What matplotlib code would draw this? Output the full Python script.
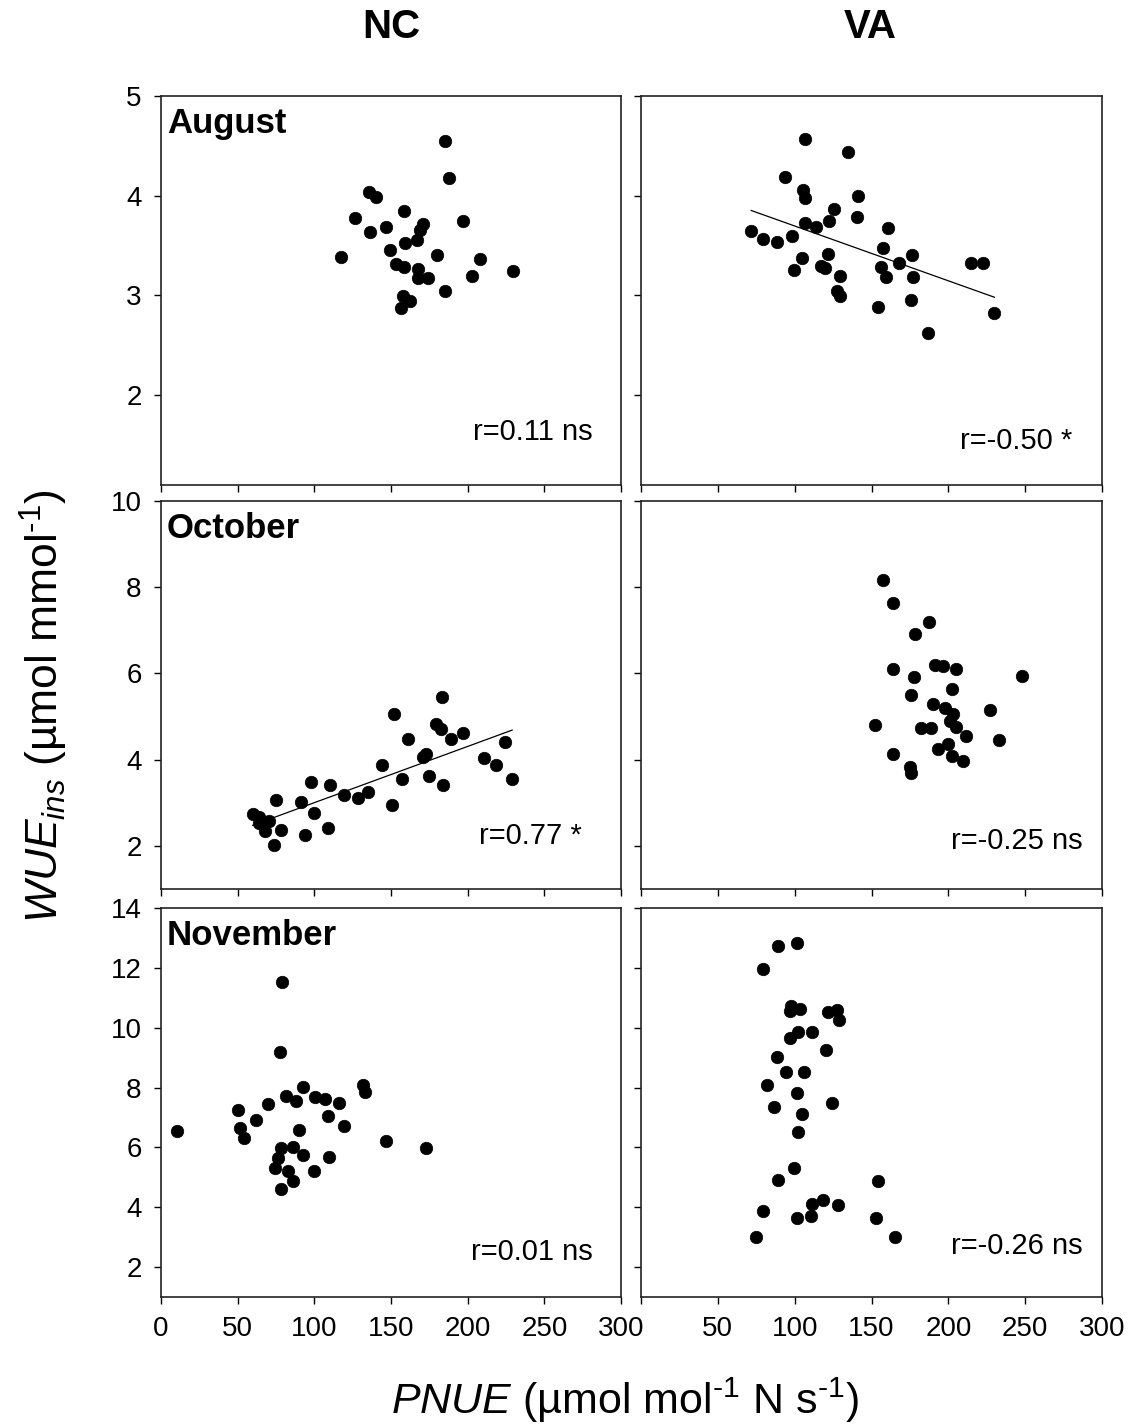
import matplotlib
matplotlib.use('Agg')
import matplotlib.pyplot as plt
import numpy as np

plt.rcParams['font.family'] = ['Liberation Sans', 'DejaVu Sans']
plt.rcParams['mathtext.fontset'] = 'custom'
plt.rcParams['mathtext.rm'] = 'Liberation Sans'
plt.rcParams['mathtext.it'] = 'Liberation Sans:italic'
plt.rcParams['mathtext.bf'] = 'Liberation Sans:bold'

# ---------------- data ----------------
sites = ["NC", "VA"]
months = ["August", "October", "November"]

nc_aug_x = [184.9, 188.1, 135.8, 140.5, 158.6, 126.3, 197.0, 170.7, 136.5, 146.5, 169.0, 167.0, 159.3, 149.3,
            117.2, 179.8, 208.1, 153.5, 158.8, 167.4, 229.5, 167.4, 174.2, 202.8, 185.3, 157.9, 162.1, 156.3]
nc_aug_y = [4.55, 4.18, 4.04, 3.99, 3.85, 3.78, 3.75, 3.72, 3.64, 3.69, 3.66, 3.56, 3.53, 3.46,
            3.39, 3.41, 3.37, 3.32, 3.29, 3.27, 3.25, 3.18, 3.18, 3.20, 3.04, 2.99, 2.94, 2.87]

va_aug_x = [106.8, 134.4, 93.5, 105.4, 106.8, 141.0, 125.3, 140.7, 122.4, 107.0, 113.7, 160.6, 71.7, 79.3,
            88.5, 98.3, 157.3, 121.8, 105.0, 176.3, 168.0, 215.0, 222.7, 156.2, 117.4, 120.0, 99.6, 129.6,
            159.5, 177.3, 127.7, 129.2, 154.0, 175.6, 230.0, 186.5]
va_aug_y = [4.57, 4.44, 4.19, 4.06, 3.98, 4.00, 3.87, 3.79, 3.75, 3.73, 3.69, 3.68, 3.65, 3.57,
            3.54, 3.60, 3.48, 3.42, 3.38, 3.41, 3.33, 3.33, 3.33, 3.29, 3.30, 3.28, 3.26, 3.20,
            3.19, 3.19, 3.05, 2.99, 2.88, 2.95, 2.82, 2.62]

nc_oct_x = [183.5, 152.1, 179.3, 182.3, 161.4, 189.3, 197.0, 224.2, 172.6, 170.7, 210.9, 218.6, 144.4, 174.7,
            183.7, 157.0, 229.0, 97.9, 110.2, 119.3, 134.7, 128.4, 150.9, 74.9, 91.6, 100.0, 59.8, 63.7,
            66.0, 70.7, 63.7, 67.9, 78.1, 109.1, 94.0, 73.5]
nc_oct_y = [5.45, 5.05, 4.83, 4.70, 4.49, 4.49, 4.62, 4.42, 4.12, 4.06, 4.04, 3.88, 3.88, 3.61,
            3.41, 3.55, 3.55, 3.48, 3.41, 3.17, 3.24, 3.11, 2.96, 3.06, 3.02, 2.77, 2.75, 2.66,
            2.56, 2.58, 2.54, 2.35, 2.37, 2.41, 2.26, 2.01]

va_oct_x = [157.8, 163.9, 187.4, 178.5, 191.1, 196.5, 204.8, 164.1, 177.6, 248.0, 202.2, 175.4, 190.0, 198.0,
            203.0, 227.4, 200.9, 205.2, 152.6, 182.4, 188.9, 211.7, 232.8, 193.3, 199.8, 202.4, 209.3,
            163.9, 175.0, 175.9]
va_oct_y = [8.17, 7.63, 7.19, 6.92, 6.20, 6.18, 6.10, 6.11, 5.92, 5.93, 5.63, 5.49, 5.30, 5.19,
            5.05, 5.16, 4.90, 4.76, 4.80, 4.73, 4.73, 4.55, 4.45, 4.25, 4.37, 4.08, 3.98,
            4.14, 3.82, 3.68]

nc_nov_x = [78.8, 77.7, 92.3, 131.9, 132.8, 81.8, 88.1, 100.2, 106.7, 115.8, 69.5, 50.5, 109.1, 61.9,
            119.5, 51.2, 10.2, 90.0, 54.0, 146.7, 173.0, 78.4, 86.3, 92.3, 109.3, 76.0, 74.4, 83.0,
            99.8, 86.0, 78.1]
nc_nov_y = [11.52, 9.19, 8.03, 8.10, 7.86, 7.71, 7.56, 7.67, 7.61, 7.50, 7.44, 7.26, 7.06, 6.91,
            6.73, 6.64, 6.54, 6.57, 6.32, 6.22, 5.97, 5.97, 6.00, 5.74, 5.69, 5.63, 5.30, 5.21,
            5.20, 4.88, 4.60]

va_nov_x = [89.4, 101.5, 79.4, 97.8, 96.7, 103.3, 121.9, 127.8, 129.1, 102.4, 96.7, 111.5, 120.6, 88.5,
            94.4, 106.3, 82.2, 101.5, 124.1, 86.8, 104.8, 102.2, 99.6, 89.4, 154.0, 118.4, 111.5, 128.0,
            79.4, 110.6, 101.7, 152.7, 74.6, 165.5]
va_nov_y = [12.72, 12.82, 11.97, 10.74, 10.57, 10.63, 10.53, 10.59, 10.26, 9.84, 9.65, 9.87, 9.25, 9.01,
            8.53, 8.53, 8.10, 7.82, 7.49, 7.36, 7.11, 6.51, 5.31, 4.91, 4.87, 4.23, 4.10, 4.09,
            3.87, 3.71, 3.64, 3.64, 3.01, 2.99]

r_labels = [["r=0.11 ns", "r=-0.50 *"],
            ["r=0.77 *", "r=-0.25 ns"],
            ["r=0.01 ns", "r=-0.26 ns"]]
show_fit = [[False, True], [True, False], [False, False]]

y_limits = [(1.1, 5), (1, 10), (1, 14)]
y_ticks = [[2, 3, 4, 5], [2, 4, 6, 8, 10], [2, 4, 6, 8, 10, 12, 14]]
x_ticks = [0, 50, 100, 150, 200, 250, 300]
x_ticks_right_labels = ["", "50", "100", "150", "200", "250", "300"]

panel_data = [[(nc_aug_x, nc_aug_y), (va_aug_x, va_aug_y)],
              [(nc_oct_x, nc_oct_y), (va_oct_x, va_oct_y)],
              [(nc_nov_x, nc_nov_y), (va_nov_x, va_nov_y)]]

# ---------------- layout ----------------
W, H = 1130, 1428
fig = plt.figure(figsize=(W / 100, H / 100), dpi=100)

col_px = [(161, 621), (641, 1102)]
row_px = [(96, 485), (501, 889), (908, 1297)]
r_pos = [[(0.939, 0.136), (0.935, 0.113)],
         [(0.915, 0.137), (0.959, 0.124)],
         [(0.939, 0.116), (0.959, 0.131)]]

def px_axes(x0, y0, x1, y1):
    return fig.add_axes([x0 / W, 1 - y1 / H, (x1 - x0) / W, (y1 - y0) / H])

for i in range(3):
    for j in range(2):
        x0, x1 = col_px[j]
        y0, y1 = row_px[i]
        ax = px_axes(x0, y0, x1, y1)
        xs, ys = panel_data[i][j]
        ax.plot(xs, ys, 'o', color='black', ms=9, mec='black', mew=0.5, zorder=3)
        if show_fit[i][j]:
            xa = np.asarray(xs)
            ya = np.asarray(ys)
            slope, icpt = np.polyfit(xa, ya, 1)
            xl = np.array([xa.min(), xa.max()])
            ax.plot(xl, icpt + slope * xl, color='black', lw=0.9, zorder=2)
        ax.set_xlim(0, 300)
        ax.set_ylim(*y_limits[i])
        ax.set_xticks(x_ticks)
        ax.set_yticks(y_ticks[i])
        ax.tick_params(direction='out', length=5, width=1.0, colors='black',
                       labelsize=20, pad=9, top=False, right=False)
        for s in ax.spines.values():
            s.set_linewidth(1.2)
            s.set_color('#222222')
        if j == 1:
            ax.set_yticklabels([])
        if i < 2:
            ax.set_xticklabels([])
        elif j == 1:
            ax.set_xticklabels(x_ticks_right_labels)
        if j == 0:
            ax.annotate(months[i], xy=(0, 1), xycoords='axes fraction',
                        xytext=(6, -11), textcoords='offset pixels',
                        ha='left', va='top', fontsize=25, fontweight='bold')
        rx, ry = r_pos[i][j]
        ax.text(rx, ry, r_labels[i][j], transform=ax.transAxes,
                ha='right', va='center', fontsize=21)

# column titles
fig.text(391 / W, 1 - 27 / H, sites[0], ha='center', va='center', fontsize=29, fontweight='bold')
fig.text(870 / W, 1 - 27 / H, sites[1], ha='center', va='center', fontsize=29, fontweight='bold')

# axis labels
fig.text(44 / W, 1 - 706 / H, r"$\it{WUE}_{\it{ins}}$ (µmol mmol$^{\text{-}1}$)", rotation=90,
         ha='center', va='center', fontsize=32)
fig.text(625 / W, 1 - 1400 / H, r"$\it{PNUE}$ (µmol mol$^{\text{-}1}$ N s$^{\text{-}1}$)",
         ha='center', va='center', fontsize=31)

fig.savefig('out.png', dpi=100)
